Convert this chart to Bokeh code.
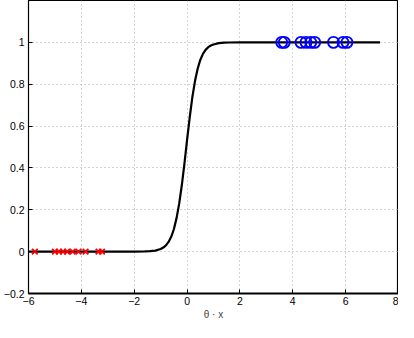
from bokeh.plotting import figure
from bokeh.models import Range1d, FixedTicker
from bokeh.embed import file_html
from bokeh.resources import INLINE

# sigmoid curve, values
curve_x = [-6.0, -2.0, -1.6, -1.4, -1.2, -1.0, -0.9, -0.8, -0.7, -0.6, -0.5, -0.4, -0.3, -0.2, -0.1,
           0.0, 0.1, 0.2, 0.3, 0.4, 0.5, 0.6, 0.7, 0.8, 0.9, 1.0, 1.2, 1.4, 1.6, 2.0, 7.3]
curve_y = [0.0, 0.0001, 0.0009, 0.0021, 0.0051, 0.0125, 0.0195, 0.030, 0.0465, 0.071, 0.107, 0.159, 0.228, 0.316, 0.421,
           0.534, 0.642, 0.738, 0.815, 0.874, 0.916, 0.945, 0.964, 0.977, 0.985, 0.990, 0.996, 0.9984, 0.9994, 1.0, 1.0]

neg_x = [-5.76, -5.0, -4.85, -4.69, -4.54, -4.33, -4.11, -3.84, -3.35, -3.22]
neg_y = [0, 0, 0, 0, 0, 0, 0, 0, 0, 0]
pos_x = [3.58, 3.68, 4.31, 4.50, 4.68, 4.83, 5.54, 5.90, 6.05]
pos_y = [1, 1, 1, 1, 1, 1, 1, 1, 1]

x_ticks = [-6, -4, -2, 0, 2, 4, 6, 8]
y_ticks = [-0.2, 0, 0.2, 0.4, 0.6, 0.8, 1.0]
x_labels = {-6: "\u22126", -4: "\u22124", -2: "\u22122", 0: "0", 2: "2", 4: "4", 6: "6", 8: "8"}
y_labels = {-0.2: "\u22120.2", 0: "0", 0.2: "0.2", 0.4: "0.4", 0.6: "0.6", 0.8: "0.8", 1.0: "1"}

FONT = "Liberation Sans"

p = figure(width=398, height=322, output_backend="svg", toolbar_location=None,
           x_range=Range1d(-6, 8), y_range=Range1d(-0.2, 1.2),
           min_border_left=21, min_border_right=0, min_border_top=0, min_border_bottom=0)
p.background_fill_color = "white"
p.border_fill_color = "white"
p.outline_line_color = "black"
p.outline_line_width = 1.2

for ax, ticks, labels in ((p.xaxis[0], x_ticks, x_labels), (p.yaxis[0], y_ticks, y_labels)):
    ax.ticker = FixedTicker(ticks=ticks)
    ax.major_label_overrides = labels
    ax.major_tick_in = 4
    ax.major_tick_out = 0
    ax.minor_tick_line_color = None
    ax.axis_line_color = "black"
    ax.major_tick_line_color = "black"
    ax.major_label_text_font = FONT
    ax.major_label_text_font_size = "10.5px"
    ax.major_label_text_color = "black"
    ax.major_label_standoff = 4

p.xaxis[0].major_label_standoff = 3
p.xaxis[0].axis_label = "\u03b8 \u00b7 x"
p.xaxis[0].axis_label_text_font = FONT
p.xaxis[0].axis_label_text_font_size = "10px"
p.xaxis[0].axis_label_text_font_style = "normal"
p.xaxis[0].axis_label_standoff = 1
p.xaxis[0].axis_line_width = 2

p.xgrid.ticker = FixedTicker(ticks=x_ticks)
p.ygrid.ticker = FixedTicker(ticks=y_ticks)
p.grid.grid_line_color = "#a8a8a8"
p.grid.grid_line_dash = "1 3"
p.grid.grid_line_width = 1

p.line(curve_x, curve_y, line_color="black", line_width=2.2, line_join="round")
p.scatter(neg_x, neg_y, marker="x", size=8, line_color="red", line_width=1.8)
p.scatter(pos_x, pos_y, marker="circle", size=11, line_color="blue", fill_color=None, line_width=1.8)

open("out.html", "w").write(file_html(p, INLINE))
